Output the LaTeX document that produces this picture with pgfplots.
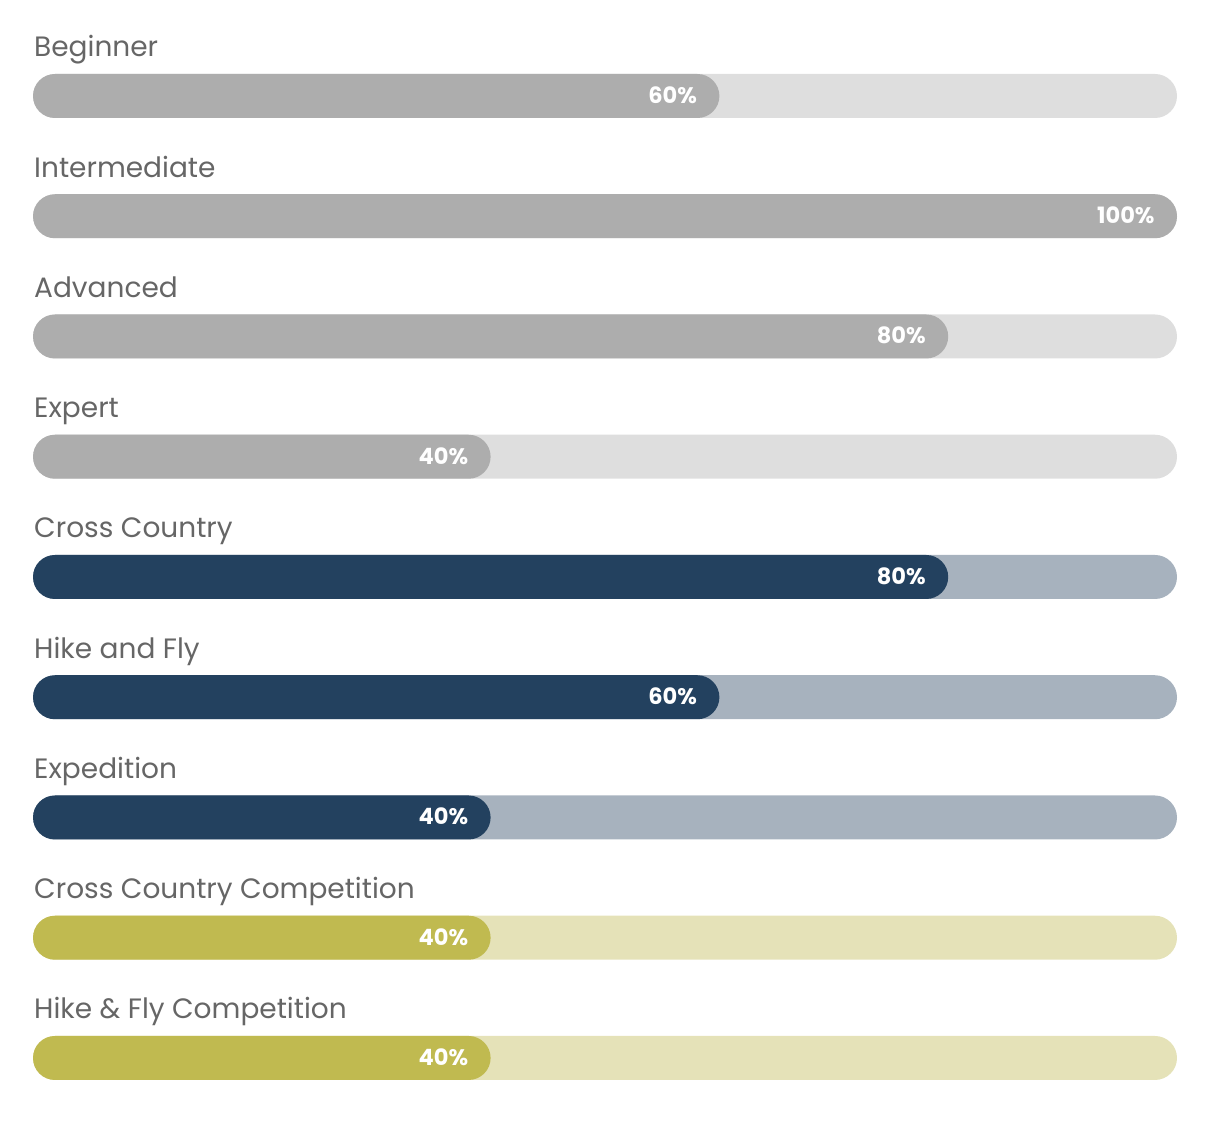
\documentclass[border=0pt]{standalone}
\usepackage{pgfplots}
\pgfplotsset{compat=1.18}
\usepackage{fontspec}
\setmainfont{Poppins}
\definecolor{gfg}{HTML}{ADADAD}
\definecolor{gbg}{HTML}{DEDEDE}
\definecolor{nfg}{HTML}{23415F}
\definecolor{nbg}{HTML}{A7B2BE}
\definecolor{ofg}{HTML}{C0BA50}
\definecolor{obg}{HTML}{E5E2B8}
\definecolor{lab}{HTML}{666666}
\tikzset{catlab/.style={anchor=base west, xshift=1bp, yshift=39bp, text=lab, font=\fontsize{28bp}{31bp}\selectfont, inner sep=0pt}}
\begin{document}
\begin{tikzpicture}
\begin{axis}[
  scale only axis, width=1144bp, height=1082.25bp,
  xmin=0, xmax=100, ymin=-0.5, ymax=8.5, y dir=reverse,
  axis lines=none, clip=false,
  xbar, bar width=44bp, bar shift=0pt,
  every axis plot/.append style={draw=none, rounded corners=22bp},
  /pgf/number format/assume math mode=true,
  nodes near coords={\pgfmathprintnumber{\pgfplotspointmeta}\%},
  point meta=x,
  every node near coord/.append style={anchor=base east, xshift=-19bp, yshift=-7.5bp,
    text=white, font=\fontsize{22.5bp}{24bp}\selectfont\bfseries},
]
% backgrounds
\addplot[fill=gbg, nodes near coords={}] coordinates {(100,0) (100,1) (100,2) (100,3)};
\addplot[fill=nbg, nodes near coords={}] coordinates {(100,4) (100,5) (100,6)};
\addplot[fill=obg, nodes near coords={}] coordinates {(100,7) (100,8)};
% values
\addplot[fill=gfg] coordinates {(60,0) (100,1) (80,2) (40,3)};
\addplot[fill=nfg] coordinates {(80,4) (60,5) (40,6)};
\addplot[fill=ofg] coordinates {(40,7) (40,8)};
% category labels
\node[catlab] at (axis cs:0,0) {Beginner};
\node[catlab] at (axis cs:0,1) {Intermediate};
\node[catlab] at (axis cs:0,2) {Advanced};
\node[catlab] at (axis cs:0,3) {Expert};
\node[catlab] at (axis cs:0,4) {Cross Country};
\node[catlab] at (axis cs:0,5) {Hike and Fly};
\node[catlab] at (axis cs:0,6) {Expedition};
\node[catlab] at (axis cs:0,7) {Cross Country Competition};
\node[catlab] at (axis cs:0,8) {Hike \& Fly Competition};
\end{axis}
\path (current axis.south west) ++(-33bp,-13.875bp);
\path (current axis.north east) ++(31bp,35.875bp);
\end{tikzpicture}
\end{document}
